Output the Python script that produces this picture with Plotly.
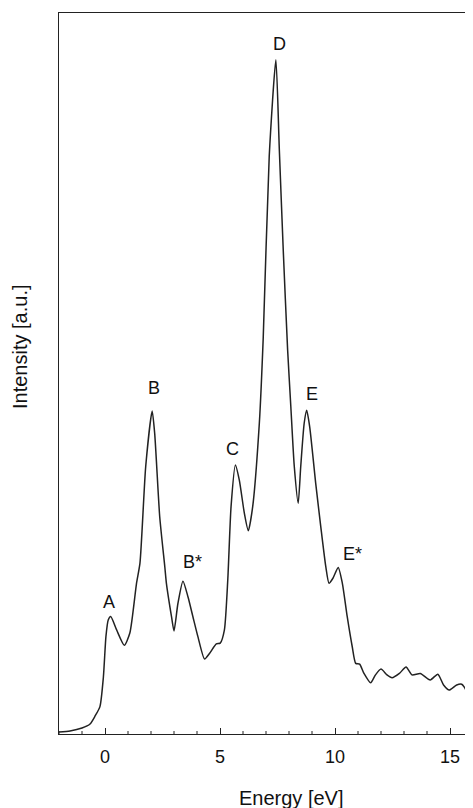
import plotly.graph_objects as go

# Spectrum
energy = [-2.0, -1.52, -1.0, -0.65, -0.43, -0.22, -0.07, 0.04, 0.14, 0.25,
          0.51, 0.84, 1.08, 1.37, 1.52, 1.77, 2.05, 2.16, 2.38, 2.60,
          2.67, 2.89, 3.0, 3.17, 3.39, 3.61, 3.82, 4.04, 4.33, 4.55,
          4.84, 5.01, 5.19, 5.34, 5.48, 5.67, 5.84, 6.06, 6.23, 6.42,
          6.71, 6.88, 7.14, 7.43, 7.58, 7.75, 7.94, 8.08,
          8.23, 8.40, 8.51, 8.66, 8.77, 8.90, 9.16, 9.38, 9.60, 9.74,
          9.91, 10.14, 10.32, 10.53, 10.75, 10.90, 11.07, 11.26, 11.55, 11.76,
          12.0, 12.26, 12.48, 12.80, 13.09, 13.35, 13.71, 14.14, 14.47, 14.72,
          14.97, 15.29, 15.51, 15.69, 15.87]
intensity = [0.28, 0.42, 0.83, 1.39, 2.5, 3.8, 7.9, 13.5, 15.8, 16.3,
             14.4, 12.3, 14.0, 20.9, 23.7, 37.1, 44.8, 41.7, 30.1, 23.2,
             20.9, 16.3, 14.3, 18.1, 21.2, 19.0, 16.3, 13.5, 10.4, 11.2,
             12.5, 12.6, 14.4, 21.5, 31.5, 37.3, 35.2, 30.6, 28.2, 31.5,
             43.1, 55.0, 80.1, 93.5, 81.0, 67.1, 53.3, 45.4,
             37.1, 32.0, 37.1, 43.1, 44.9, 42.6, 34.8, 28.8, 23.2, 20.9,
             21.6, 23.1, 20.9, 16.3, 12.1, 9.8, 9.7, 8.4, 7.1, 8.2,
             9.0, 8.2, 7.8, 8.4, 9.3, 8.2, 8.4, 7.5, 8.3, 6.8,
             6.1, 6.8, 6.9, 6.1, 2.6]

peak_labels = ["A", "B", "B*", "C", "D", "E", "E*"]
peak_x = [0.17, 2.12, 3.81, 5.55, 7.6, 8.99, 10.74]
peak_y = [18.3, 48.0, 23.8, 39.5, 95.7, 47.1, 25.0]

x_ticks = [0, 5, 10, 15]
x_minor = [-2, -1, 1, 2, 3, 4, 6, 7, 8, 9, 11, 12, 13, 14, 16]

FONT = "Liberation Sans, Arial, Helvetica, sans-serif"

# page body has an 8px margin; compensate so the plot area lands at
# left 59, top 13, bottom 734, right 473 in the window
OFF = 8
W, H = 473 - OFF, 808 - OFF
ML, MT, MB = 59 - OFF, 13 - OFF, 808 - 734
PW, PH = W - ML, H - MT - MB

fig = go.Figure()
fig.add_trace(go.Scatter(x=energy, y=intensity, mode="lines",
                         line=dict(color="#222222", width=1.5, shape="spline", smoothing=0.6),
                         hoverinfo="skip", showlegend=False))

for lab, px, py in zip(peak_labels, peak_x, peak_y):
    fig.add_annotation(x=px, y=py, text=lab, showarrow=False,
                       font=dict(family=FONT, size=18, color="#111111"),
                       xanchor="center", yanchor="middle")

# axis titles
fig.add_annotation(xref="paper", yref="paper", x=(291 - 59) / PW, y=-(798 - 734) / PH,
                   text="Energy [eV]", showarrow=False, xanchor="center", yanchor="middle",
                   font=dict(family=FONT, size=20, color="#111111"))
fig.add_annotation(xref="paper", yref="paper", x=-(59 - 20) / PW, y=(734 - 347) / PH,
                   text="Intensity [a.u.]", showarrow=False, textangle=-90,
                   xanchor="center", yanchor="middle",
                   font=dict(family=FONT, size=20, color="#111111"))

# minor ticks drawn as short shapes at data x positions
for mx in x_minor:
    fig.add_shape(type="line", xref="x", yref="paper", x0=mx, x1=mx,
                  y0=0, y1=3 / PH, line=dict(color="#222222", width=1))

fig.update_layout(
    width=W, height=H,
    margin=dict(l=ML, r=0, t=MT, b=MB),
    paper_bgcolor="white", plot_bgcolor="white",
    font=dict(family=FONT, color="#111111"),
    xaxis=dict(range=[-2, 16], tickvals=x_ticks, ticktext=[str(v) for v in x_ticks],
               ticks="inside", ticklen=6, tickwidth=1, tickcolor="#222222",
               showline=True, linecolor="#222222", linewidth=1.3, mirror=True,
               showgrid=False, zeroline=False, ticklabelstandoff=6,
               tickfont=dict(family=FONT, size=18, color="#111111")),
    yaxis=dict(range=[0, 100], showticklabels=False, ticks="",
               showline=True, linecolor="#222222", linewidth=1.3,
               showgrid=False, zeroline=False),
)

fig.write_html("out.html")
